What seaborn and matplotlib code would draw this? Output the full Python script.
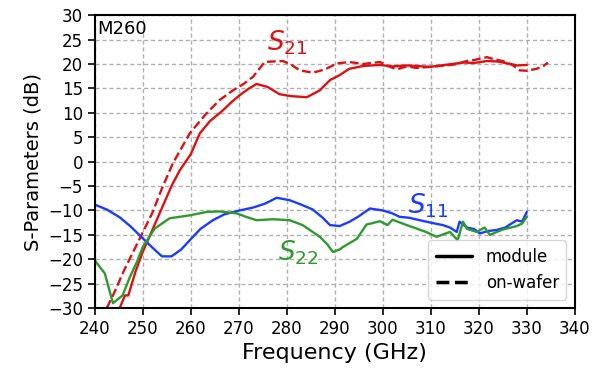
import numpy as np
import pandas as pd
import matplotlib
matplotlib.use('Agg')
import matplotlib.pyplot as plt
import seaborn as sns

# S21 module
f_s21_mod = [245.2, 246.3, 247.0, 248.5, 250.0, 252.0, 254.0, 256.0, 257.7, 260.0, 261.9,
             264.0, 266.7, 268.5, 270.2, 272.0, 273.7, 276.0, 278.5, 281.0, 284.2, 286.9,
             289.0, 291.0, 293.0, 296.0, 299.4, 302.0, 305.0, 309.8, 313.0, 316.7, 319.0,
             321.7, 324.0, 326.0, 328.0, 330.0]
v_s21_mod = [-30.0, -27.4, -27.4, -22.5, -18.5, -14.0, -9.5, -5.0, -1.8, 1.5, 5.8,
             8.3, 10.5, 12.2, 13.6, 14.9, 15.9, 15.3, 13.8, 13.4, 13.2, 14.6,
             16.7, 17.7, 19.0, 19.6, 19.8, 19.5, 19.7, 19.4, 19.8, 20.3, 20.2,
             20.6, 20.5, 20.1, 19.7, 19.8]

# S21 on-wafer
f_s21_waf = [242.5, 244.0, 246.0, 248.0, 250.0, 252.0, 254.0, 256.3, 259.8, 263.3, 266.0,
             268.8, 271.0, 273.0, 275.4, 277.0, 279.2, 281.0, 282.7, 285.4, 288.0, 290.4,
             293.0, 296.0, 299.4, 301.0, 302.9, 305.0, 307.0, 309.8, 312.0, 315.0, 317.5,
             319.0, 321.7, 323.0, 325.0, 327.0, 328.5, 330.0, 332.0, 333.5, 334.4]
v_s21_waf = [-30.0, -27.0, -22.5, -18.5, -14.5, -10.5, -5.5, -0.3, 5.8, 9.9, 12.6,
             14.6, 15.9, 17.4, 20.4, 20.5, 20.6, 19.8, 18.7, 18.2, 18.9, 20.1,
             20.4, 20.0, 20.4, 19.6, 18.9, 19.5, 19.2, 19.4, 19.6, 19.9, 20.6,
             20.8, 21.4, 21.0, 20.6, 19.8, 18.7, 18.6, 19.0, 19.6, 20.3]

# S11 module
f_s11 = [240.0, 242.5, 245.2, 247.5, 250.0, 252.0, 254.0, 256.0, 258.0, 259.8, 262.0,
         264.6, 267.0, 270.2, 273.0, 275.5, 277.9, 280.6, 283.0, 285.4, 287.5, 289.0,
         291.0, 293.1, 295.0, 297.3, 300.0, 302.0, 303.5, 305.5, 307.7, 310.0, 312.5,
         314.0, 315.4, 316.0, 317.5, 319.0, 320.2, 322.0, 323.7, 325.5, 327.9, 329.0, 330.0]
v_s11 = [-8.8, -9.8, -11.4, -13.3, -15.7, -17.6, -19.4, -19.4, -18.0, -16.1, -13.8,
         -12.0, -10.8, -10.0, -9.4, -8.6, -7.4, -7.9, -8.8, -9.8, -11.5, -13.0,
         -13.2, -12.3, -11.2, -9.6, -10.0, -10.6, -11.3, -11.5, -12.0, -12.5, -13.0,
         -13.5, -14.4, -12.3, -13.5, -13.8, -14.7, -14.2, -14.0, -13.5, -12.0, -12.3, -10.3]

# S22 module
f_s22 = [240.0, 242.1, 243.8, 245.8, 247.3, 248.8, 250.0, 252.5, 255.6, 259.8, 263.3,
         266.0, 269.6, 271.5, 273.7, 277.1, 280.6, 283.3, 286.9, 288.5, 289.6, 291.0,
         291.7, 294.6, 296.6, 299.4, 301.0, 302.0, 305.0, 309.0, 311.2, 314.0, 315.6,
         316.7, 317.6, 319.6, 321.2, 322.3, 325.0, 327.9, 329.0, 330.0]
v_s22 = [-20.2, -22.9, -29.0, -27.4, -23.7, -20.5, -17.5, -13.7, -11.6, -11.0, -10.3,
         -10.2, -10.6, -11.3, -12.0, -11.8, -12.0, -13.0, -15.4, -17.0, -18.5, -18.0,
         -17.5, -15.8, -12.9, -12.2, -13.0, -11.9, -13.0, -14.4, -15.4, -14.4, -16.1,
         -12.3, -13.8, -14.4, -13.5, -15.0, -13.9, -13.2, -12.7, -11.3]

red = '#dd1111'
blue = '#1a3cff'
green = '#2e9a2e'

sns.set_style('ticks')
plt.rcParams['font.family'] = ['DejaVu Sans']
plt.rcParams['text.color'] = 'black'
plt.rcParams['axes.labelcolor'] = 'black'
plt.rcParams['xtick.color'] = 'black'
plt.rcParams['ytick.color'] = 'black'

fig = plt.figure(figsize=(5.92, 3.69), dpi=100)
ax = fig.add_axes([0.160, 0.165, 0.811, 0.794])

sns.lineplot(x=f_s21_mod, y=v_s21_mod, color=red, lw=1.7, ax=ax, sort=False)
sns.lineplot(x=f_s21_waf, y=v_s21_waf, color=red, lw=1.7, ls='--', ax=ax, sort=False)
sns.lineplot(x=f_s11, y=v_s11, color=blue, lw=1.7, ax=ax, sort=False)
sns.lineplot(x=f_s22, y=v_s22, color=green, lw=1.7, ax=ax, sort=False)

ax.plot([], [], color='black', lw=2.5, label='module')
ax.plot([], [], color='black', lw=2.5, ls='--', label='on-wafer')
ax.legend(loc='lower right', fontsize=12, handlelength=2.2, framealpha=0.8,
          borderaxespad=0.5, borderpad=0.45)

ax.set_xlim(240, 340)
ax.set_ylim(-30, 30)
ax.set_xticks(np.arange(240, 341, 10))
ax.set_yticks(np.arange(-30, 31, 5))
ax.grid(True, ls=(0, (3, 2)), color='#b0b0b0', lw=1)
ax.tick_params(labelsize=12, length=5, width=1.2, color='black')
for s in ax.spines.values():
    s.set_linewidth(1.5)
    s.set_color('black')

ax.set_xlabel('Frequency (GHz)', fontsize=16)
ax.set_ylabel('S-Parameters (dB)', fontsize=14)

ax.text(0.006, 0.985, 'M260', transform=ax.transAxes, fontsize=13,
        ha='left', va='top')
ax.text(280, 24.3, '$S_{21}$', color=red, fontsize=19, ha='center', va='center')
ax.text(309.5, -9.0, '$S_{11}$', color=blue, fontsize=19, ha='center', va='center')
ax.text(282.3, -18.6, '$S_{22}$', color=green, fontsize=19, ha='center', va='center')

fig.savefig('out.png', dpi=100)
